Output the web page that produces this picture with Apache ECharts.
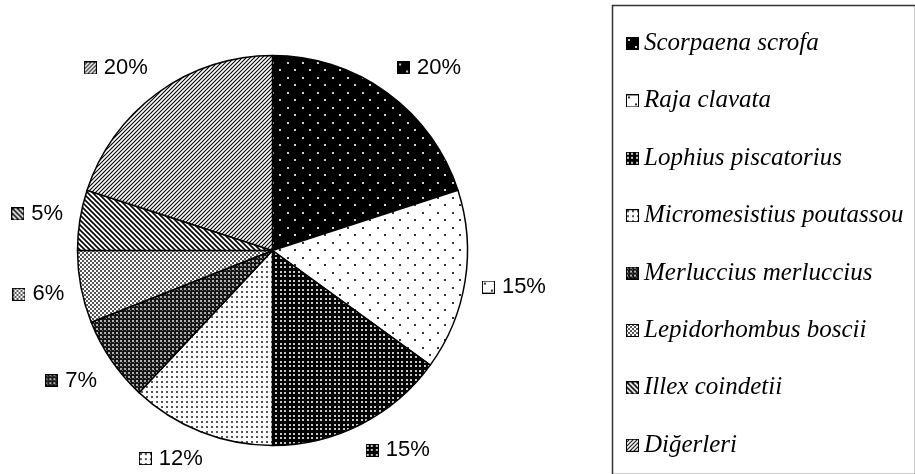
<!DOCTYPE html>
<html>
<head>
<meta charset="utf-8">
<script src="https://cdn.jsdelivr.net/npm/echarts@6.0.0/dist/echarts.min.js"></script>
<style>
  html, body { margin: 0; padding: 0; background: #fff; }
  #chart { width: 915px; height: 474px; }
</style>
</head>
<body>
<div id="chart"></div>
<script>
// Species share of the catch (%)
const categories = [
  'Scorpaena scrofa',
  'Raja clavata',
  'Lophius piscatorius',
  'Micromesistius poutassou',
  'Merluccius merluccius',
  'Lepidorhombus boscii',
  'Illex coindetii',
  'Diğerleri'
];
const shares = [20, 15, 15, 12, 7, 6, 5, 20];

// ---- monochrome fill patterns ----
function tile(w, h, draw) {
  const c = document.createElement('canvas');
  c.width = w; c.height = h;
  draw(c.getContext('2d'), w, h);
  return c;
}
function dots(g, color, pts, size) {
  g.fillStyle = color;
  pts.forEach(p => g.fillRect(p[0], p[1], size, size));
}
function diagonal(g, s, dir, width, color) {
  g.strokeStyle = color; g.lineWidth = width;
  for (let k = -1; k <= 1; k++) {
    g.beginPath();
    if (dir > 0) { // "/"
      g.moveTo(-1 + k * s, s + 1); g.lineTo(s + 1 + k * s, -1);
    } else {       // "\"
      g.moveTo(-1 + k * s, -1); g.lineTo(s + 1 + k * s, s + 1);
    }
    g.stroke();
  }
}
const patterns = [
  tile(15, 15, (g, w, h) => { g.fillStyle = '#000'; g.fillRect(0, 0, w, h); dots(g, '#cfcfcf', [[2, 2], [9, 9]], 2); }),
  tile(15, 15, (g, w, h) => { g.fillStyle = '#fff'; g.fillRect(0, 0, w, h); dots(g, '#333', [[2, 2], [9, 9]], 2); }),
  tile(9, 9, (g, w, h) => { g.fillStyle = '#000'; g.fillRect(0, 0, w, h); dots(g, '#c8c8c8', [[1, 1], [5, 1], [1, 5], [5, 5]], 2); }),
  tile(5, 5, (g, w, h) => { g.fillStyle = '#fff'; g.fillRect(0, 0, w, h); dots(g, '#555', [[1, 1]], 2); }),
  tile(4, 4, (g, w, h) => { g.fillStyle = '#151515'; g.fillRect(0, 0, w, h); dots(g, '#b0b0b0', [[0, 0]], 2); dots(g, '#6a6a6a', [[2, 2]], 1); }),
  tile(4, 4, (g, w, h) => { g.fillStyle = '#555'; g.fillRect(0, 0, w, h); dots(g, '#fff', [[0, 0], [2, 2]], 2); }),
  tile(5, 5, (g, w, h) => { g.fillStyle = '#fff'; g.fillRect(0, 0, w, h); diagonal(g, 5, -1, 1.6, '#000'); }),
  tile(4, 4, (g, w, h) => { g.fillStyle = '#fff'; g.fillRect(0, 0, w, h); diagonal(g, 4, 1, 1.1, '#000'); })
];

// small boxed swatches used by the legend and the value labels
const icons = patterns.map(p => tile(13, 13, (g, w, h) => {
  g.fillStyle = g.createPattern(p, 'repeat');
  g.fillRect(0, 0, w, h);
  g.strokeStyle = '#000'; g.lineWidth = 1;
  g.strokeRect(0.5, 0.5, w - 1, h - 1);
}));

const total = shares.reduce((a, b) => a + b, 0);
const PIE_CENTER = [272.5, 250.5];
const PIE_RADIUS = 195;
const LABEL_GAP = 17;

const rich = { t: { fontFamily: 'Liberation Sans', fontSize: 22, color: '#000', padding: [0, 0, 0, 7] } };
icons.forEach((c, i) => {
  rich['i' + i] = { width: 13, height: 13, backgroundColor: { image: c } };
});

// value labels: anchor point just outside the rim on the slice's mid-angle,
// label box pushed away from the pie toward that direction
function placeLabel(params) {
  const i = params.dataIndex;
  let before = 0;
  for (let k = 0; k < i; k++) before += shares[k];
  const theta = (before + shares[i] / 2) / total * Math.PI * 2;
  const dx = Math.sin(theta), dy = -Math.cos(theta);
  const w = params.labelRect.width, h = params.labelRect.height;
  const R = PIE_RADIUS + LABEL_GAP;
  const sx = Math.max(-1, Math.min(1, dx * 2));
  const sy = Math.max(-1, Math.min(1, dy * 2));
  return {
    x: PIE_CENTER[0] + dx * R + sx * w / 2,
    y: PIE_CENTER[1] + dy * R + sy * h / 2,
    align: 'center',
    verticalAlign: 'middle'
  };
}

const chart = echarts.init(document.getElementById('chart'), null, { renderer: 'canvas' });
chart.setOption({
  animation: false,
  backgroundColor: '#fff',
  graphic: [{
    type: 'rect',
    left: 610, top: 3,
    shape: { width: 303, height: 469 },
    style: { fill: 'none', stroke: '#333', lineWidth: 1.5 },
    silent: true
  }],
  legend: {
    orient: 'vertical',
    left: 626, top: 31,
    padding: 0,
    itemWidth: 13, itemHeight: 13,
    itemGap: 32.4,
    itemTextGap: 12,
    selectedMode: false,
    textStyle: { fontFamily: 'Liberation Serif', fontStyle: 'italic', fontSize: 25, lineHeight: 25, color: '#000' },
    data: categories.map((n, i) => ({ name: n, icon: 'image://' + icons[i].toDataURL() }))
  },
  series: [{
    type: 'pie',
    center: PIE_CENTER,
    radius: PIE_RADIUS,
    startAngle: 90,
    clockwise: true,
    avoidLabelOverlap: false,
    emphasis: { disabled: true },
    itemStyle: { borderColor: '#000', borderWidth: 1.5 },
    label: {
      show: true,
      position: 'outside',
      formatter: p => '{i' + p.dataIndex + '|}{t|' + p.value + '%}',
      rich: rich
    },
    labelLine: { show: false, length: 10, length2: 0 },
    labelLayout: placeLabel,
    data: categories.map((n, i) => ({
      name: n,
      value: shares[i],
      itemStyle: { color: { image: patterns[i], repeat: 'repeat' } }
    }))
  }]
});
</script>
</body>
</html>
